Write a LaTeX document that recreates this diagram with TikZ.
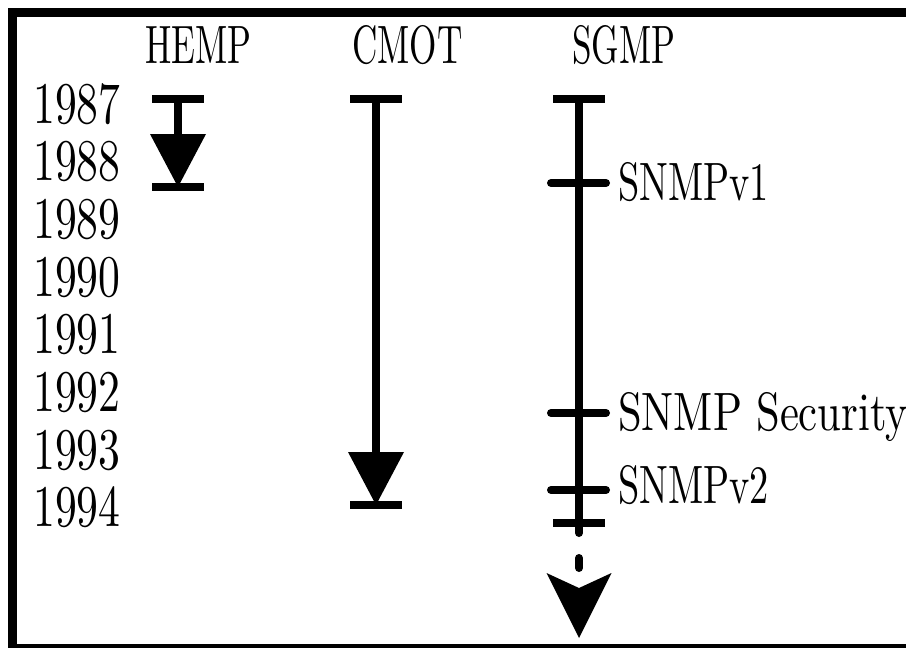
\documentclass[tikz,border=0pt]{standalone}
\usepackage{fontspec}
\newfontfamily\yearfont{lmroman10-regular.otf}[FakeStretch=0.74]
\newfontfamily\headfont{lmroman10-regular.otf}[FakeStretch=0.65]
\newfontfamily\notefont{lmroman10-regular.otf}[FakeStretch=0.71]
\newfontfamily\secfont{lmroman10-regular.otf}[FakeStretch=0.79]
\usetikzlibrary{arrows.meta, positioning}

\begin{document}
\begin{tikzpicture}[x=1pt, y=-1pt,
  year/.style={font=\yearfont\fontsize{59}{59}\selectfont, inner sep=0pt, anchor=base west},
  header/.style={font=\headfont\fontsize{54}{54}\selectfont, inner sep=0pt, anchor=base west},
  note/.style={font=\notefont\fontsize{54}{54}\selectfont, inner sep=0pt, anchor=base west},
  frame/.style={line width=9pt},
  bar/.style={line width=8pt},
  tickmark/.style={line width=8pt, line cap=round},
  life/.style={line width=8pt, -{Triangle[length=53pt, width=56pt, line width=0pt]}},
  future/.style={line width=8pt, line cap=round, dash pattern=on 10pt off 25pt, -{Stealth[length=65pt, width=65pt, inset=15pt, line width=0pt]}}]

  \useasboundingbox (0,0) rectangle (906,648);

  % Frame
  \draw [frame] (906,12) -- (12,12) -- (12,648) -- (906,648);

  % Nodes
  \node (hemp) [header] at (145,63) {HEMP};
  \node (cmot) [header] at (352,63) {CMOT};
  \node (sgmp) [header] at (572,63) {SGMP};

  \node (y1987) [year] at (33,123) {1987};
  \node (y1988) [year] at (33,180.7) {1988};
  \node (y1989) [year] at (33,238.4) {1989};
  \node (y1990) [year] at (33,296.1) {1990};
  \node (y1991) [year] at (33,353.8) {1991};
  \node (y1992) [year] at (33,411.5) {1992};
  \node (y1993) [year] at (33,469.2) {1993};
  \node (y1994) [year] at (33,526.9) {1994};

  \coordinate (hempstart) at (178,99);
  \coordinate (hempend) at (178,187);
  \coordinate (cmotstart) at (376,99);
  \coordinate (cmotend) at (376,505);
  \coordinate (sgmpstart) at (579,99);
  \coordinate (snmpvone) at (579,183);
  \coordinate (snmpsec) at (579,413);
  \coordinate (snmpvtwo) at (579,490);
  \coordinate (sgmpend) at (579,523);
  \coordinate (sgmpnext) at (579,638);

  \node (vone) [note] at (618,200) {SNMPv1};
  \node (sec) [note, font=\secfont\fontsize{54}{54}\selectfont] at (618,430) {SNMP Security};
  \node (vtwo) [note] at (618,503) {SNMPv2};

  % Bars
  \draw [bar] ([xshift=-26pt]hempstart) -- ([xshift=26pt]hempstart);
  \draw [bar] ([xshift=-26pt]hempend) -- ([xshift=26pt]hempend);
  \draw [bar] ([xshift=-26pt]cmotstart) -- ([xshift=26pt]cmotstart);
  \draw [bar] ([xshift=-26pt]cmotend) -- ([xshift=26pt]cmotend);
  \draw [bar] ([xshift=-26pt]sgmpstart) -- ([xshift=26pt]sgmpstart);
  \draw [bar] ([xshift=-26pt]sgmpend) -- ([xshift=26pt]sgmpend);
  \draw [tickmark] ([xshift=-28pt]snmpvone) -- ([xshift=27pt]snmpvone);
  \draw [tickmark] ([xshift=-28pt]snmpsec) -- ([xshift=27pt]snmpsec);
  \draw [tickmark] ([xshift=-28pt]snmpvtwo) -- ([xshift=27pt]snmpvtwo);

  % Arrows
  \draw [life] (hempstart) -- (hempend);
  \draw [life] (cmotstart) -- (cmotend);
  \draw [bar] (sgmpstart) -- (sgmpend);
  \draw [future] (sgmpend) -- (sgmpnext);

\end{tikzpicture}
\end{document}
